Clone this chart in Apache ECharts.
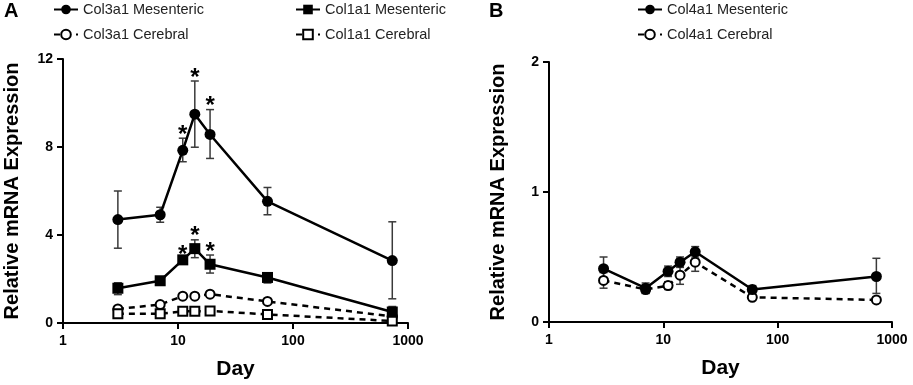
<!DOCTYPE html>
<html>
<head>
<meta charset="utf-8">
<script src="https://cdn.jsdelivr.net/npm/echarts@6/dist/echarts.min.js"></script>
<style>
  html, body { margin: 0; padding: 0; background: #fff; }
  #chart { width: 913px; height: 385px; }
</style>
</head>
<body>
<div id="chart"></div>
<script>
// days sampled (same for all series)
const days = [3, 7, 11, 14, 19, 60, 730]

// panel A - Col3a1 / Col1a1
const col3Mes = [4.7, 4.92, 7.85, 9.49, 8.57, 5.53, 2.84]
const col3MesLo = [3.4, 4.58, 7.33, 7.99, 7.48, 4.92, 1.1]
const col3MesHi = [6.0, 5.26, 8.4, 11.0, 9.7, 6.16, 4.6]
const col1Mes = [1.58, 1.92, 2.87, 3.38, 2.67, 2.07, 0.5]
const col1MesLo = [1.29, 1.85, 2.8, 2.97, 2.27, 1.82, 0.25]
const col1MesHi = [1.83, 1.99, 2.95, 3.78, 3.09, 2.27, 0.75]
const col3Cer = [0.64, 0.84, 1.22, 1.22, 1.31, 0.98, 0.3]
const col1Cer = [0.42, 0.42, 0.53, 0.53, 0.55, 0.39, 0.09]
// significance marks (index into days)
const starIdx = [2, 3, 4]

// panel B - Col4a1
const col4Mes = [0.41, 0.26, 0.39, 0.46, 0.54, 0.25, 0.35]
const col4MesLo = [0.33, 0.22, 0.35, 0.42, 0.5, 0.22, 0.22]
const col4MesHi = [0.5, 0.3, 0.43, 0.5, 0.58, 0.28, 0.49]
const col4Cer = [0.32, 0.25, 0.28, 0.36, 0.46, 0.19, 0.17]
const col4CerLo = [0.26, 0.22, 0.25, 0.29, 0.39, 0.17, 0.15]
const col4CerHi = [0.38, 0.28, 0.31, 0.43, 0.53, 0.21, 0.19]

const FONT = 'Liberation Sans'

const pair = arr => arr.map((v, i) => [days[i], v])
const bars = (lo, hi) => lo.map((v, i) => [days[i], v, hi[i]])

// vertical error bar with caps
function errorRender (params, api) {
  const x = api.value(0)
  const lo = api.coord([x, api.value(1)])
  const hi = api.coord([x, api.value(2)])
  const w = 4
  const st = { stroke: '#3a3a3a', lineWidth: 1.5 }
  return {
    type: 'group',
    children: [
      { type: 'line', shape: { x1: lo[0], y1: lo[1], x2: hi[0], y2: hi[1] }, style: st },
      { type: 'line', shape: { x1: hi[0] - w, y1: hi[1], x2: hi[0] + w, y2: hi[1] }, style: st },
      { type: 'line', shape: { x1: lo[0] - w, y1: lo[1], x2: lo[0] + w, y2: lo[1] }, style: st }
    ]
  }
}

function starRender (params, api) {
  const p = api.coord([api.value(0), api.value(1)])
  return {
    type: 'text',
    x: p[0],
    y: p[1] - 3,
    style: {
      text: '*',
      font: 'bold 24px ' + FONT,
      fill: '#000',
      align: 'center',
      verticalAlign: 'middle'
    }
  }
}

function errSeries (idx, lo, hi) {
  return {
    type: 'custom',
    xAxisIndex: idx,
    yAxisIndex: idx,
    renderItem: errorRender,
    encode: { x: 0, y: [1, 2] },
    data: bars(lo, hi),
    z: 1
  }
}

function lineSeries (idx, name, data, symbol, dashed) {
  return {
    type: 'line',
    name: name,
    xAxisIndex: idx,
    yAxisIndex: idx,
    data: pair(data),
    symbol: symbol,
    symbolSize: symbol.indexOf('empty') === 0 ? 9 : 11,
    lineStyle: { color: '#000', width: 2.5, type: dashed ? [6, 5] : 'solid' },
    itemStyle: { color: '#000', borderColor: '#000', borderWidth: dashed ? 2 : 0 },
    emphasis: { disabled: true },
    z: dashed ? 3 : 4
  }
}

function xAxisOpt (idx) {
  return {
    type: 'log',
    logBase: 10,
    min: 1,
    max: 1000,
    gridIndex: idx,
    name: 'Day',
    nameLocation: 'middle',
    nameGap: 36,
    nameTextStyle: { fontFamily: FONT, fontWeight: 'bold', fontSize: 21, color: '#000' },
    axisLine: { lineStyle: { color: '#000', width: 2 } },
    axisTick: { length: 6, lineStyle: { width: 2 } },
    axisLabel: {
      fontFamily: FONT, fontWeight: 'bold', fontSize: 14, color: '#000', margin: 11,
      formatter: v => String(Math.round(v))
    },
    splitLine: { show: false },
    minorTick: { show: false }
  }
}

function yAxisOpt (idx, max, interval) {
  return {
    type: 'value',
    gridIndex: idx,
    min: 0,
    max: max,
    interval: interval,
    name: 'Relative mRNA Expression',
    nameLocation: 'middle',
    nameGap: 41,
    nameTextStyle: { fontFamily: FONT, fontWeight: 'bold', fontSize: 20, color: '#000' },
    axisLine: { show: true, lineStyle: { color: '#000', width: 2 } },
    axisTick: { show: true, length: 6, lineStyle: { width: 2 } },
    axisLabel: { fontFamily: FONT, fontWeight: 'bold', fontSize: 14, color: '#000', margin: 10 },
    splitLine: { show: false }
  }
}

function legendOpt (left, names) {
  return {
    orient: 'vertical',
    left: left,
    top: 2,
    padding: 0,
    itemWidth: 24,
    itemHeight: 12,
    itemGap: 10,
    data: names,
    textStyle: { fontFamily: FONT, fontSize: 14.5, color: '#222' }
  }
}

const chart = echarts.init(document.getElementById('chart'), null, { renderer: 'canvas' })

const option = {
  animation: false,
  backgroundColor: '#fff',
  title: [
    { text: 'A', left: 4, top: 1, padding: 0, textStyle: { fontFamily: FONT, fontWeight: 'bold', fontSize: 20, color: '#000' } },
    { text: 'B', left: 489, top: 1, padding: 0, textStyle: { fontFamily: FONT, fontWeight: 'bold', fontSize: 20, color: '#000' } }
  ],
  legend: [
    legendOpt(53, ['Col3a1 Mesenteric', 'Col3a1 Cerebral']),
    legendOpt(295, ['Col1a1 Mesenteric', 'Col1a1 Cerebral']),
    legendOpt(637, ['Col4a1 Mesenteric', 'Col4a1 Cerebral'])
  ],
  grid: [
    { left: 63, top: 59, width: 345, height: 266 },
    { left: 549, top: 62, width: 343, height: 260 }
  ],
  xAxis: [xAxisOpt(0), xAxisOpt(1)],
  yAxis: [yAxisOpt(0, 12, 4), yAxisOpt(1, 2, 1)],
  series: [
    errSeries(0, col3MesLo, col3MesHi),
    errSeries(0, col1MesLo, col1MesHi),
    lineSeries(0, 'Col3a1 Cerebral', col3Cer, 'emptyCircle', true),
    lineSeries(0, 'Col1a1 Cerebral', col1Cer, 'emptyRect', true),
    lineSeries(0, 'Col3a1 Mesenteric', col3Mes, 'circle', false),
    lineSeries(0, 'Col1a1 Mesenteric', col1Mes, 'rect', false),
    {
      type: 'custom',
      xAxisIndex: 0,
      yAxisIndex: 0,
      renderItem: starRender,
      data: starIdx.map(i => [days[i], col3MesHi[i]]).concat(starIdx.map(i => [days[i], col1MesHi[i]])),
      z: 5
    },
    errSeries(1, col4CerLo, col4CerHi),
    errSeries(1, col4MesLo, col4MesHi),
    lineSeries(1, 'Col4a1 Cerebral', col4Cer, 'emptyCircle', true),
    lineSeries(1, 'Col4a1 Mesenteric', col4Mes, 'circle', false)
  ]
}

chart.setOption(option)
</script>
</body>
</html>
